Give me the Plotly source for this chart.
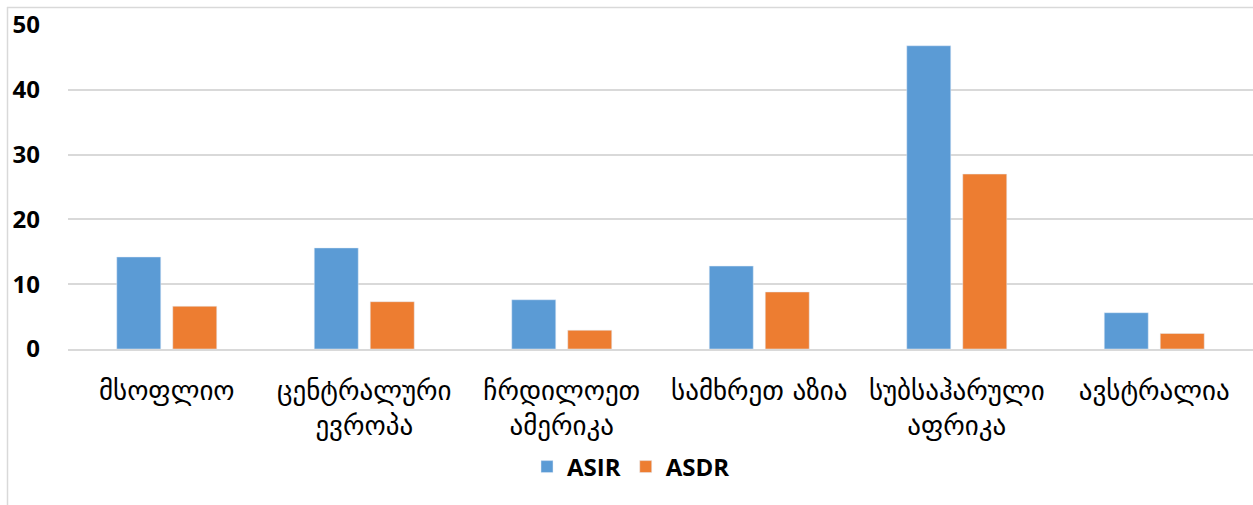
import plotly.graph_objects as go

categories = ["მსოფლიო", "ცენტრალური<br>ევროპა", "ჩრდილოეთ<br>ამერიკა",
              "სამხრეთ აზია", "სუბსაჰარული<br>აფრიკა", "ავსტრალია"]
asir = [14.2, 15.6, 7.6, 12.8, 46.8, 5.6]
asdr = [6.6, 7.3, 2.9, 8.8, 27.0, 2.4]
y_ticks = [0, 10, 20, 30, 40, 50]

W, H = 1253, 505
L, R, T = 68, 0, 25
PH = 324
B = H - T - PH
pw, ph = W - L - R, PH

fig = go.Figure()
fig.add_trace(go.Bar(name="ASIR", x=categories, y=asir, marker_color="#5B9BD5"))
fig.add_trace(go.Bar(name="ASDR", x=categories, y=asdr, marker_color="#ED7D31"))

def px_x(p):
    return (p - L) / pw

def px_y(p):
    return (T + PH - p) / ph

fig.update_layout(
    width=W, height=H,
    margin=dict(l=L, r=R, t=T, b=B),
    plot_bgcolor="white", paper_bgcolor="white",
    barmode="group", bargap=0.433, bargroupgap=0.214,
    font=dict(family="DejaVu Sans", color="#000000"),
    legend=dict(orientation="h", x=px_x(631), xanchor="center", y=px_y(467), yanchor="middle",
                font=dict(family="Open Sans", size=24, weight="bold", color="#000000"),
                itemwidth=30, traceorder="normal"),
    yaxis=dict(range=[0, 50], tickvals=y_ticks, showgrid=True, gridcolor="#D9D9D9",
               gridwidth=1.5, zeroline=False, showline=False,
               tickfont=dict(family="Open Sans", size=24, weight="bold", color="#000000"),
               ticklabelstandoff=27),
    xaxis=dict(showline=True, linecolor="#D9D9D9", linewidth=1.5,
               tickfont=dict(family="DejaVu Sans", size=27, color="#000000"),
               ticklabelstandoff=17),
    shapes=[
        dict(type="line", xref="paper", yref="paper", x0=px_x(7), x1=px_x(1260),
             y0=px_y(7.5), y1=px_y(7.5), line=dict(color="#D9D9D9", width=1.5)),
        dict(type="line", xref="paper", yref="paper", x0=px_x(7.5), x1=px_x(7.5),
             y0=px_y(7), y1=px_y(520), line=dict(color="#D9D9D9", width=1.5)),
    ],
)

fig.write_html("out.html", config={"displayModeBar": False},
               post_script="document.body.style.margin='0';")
